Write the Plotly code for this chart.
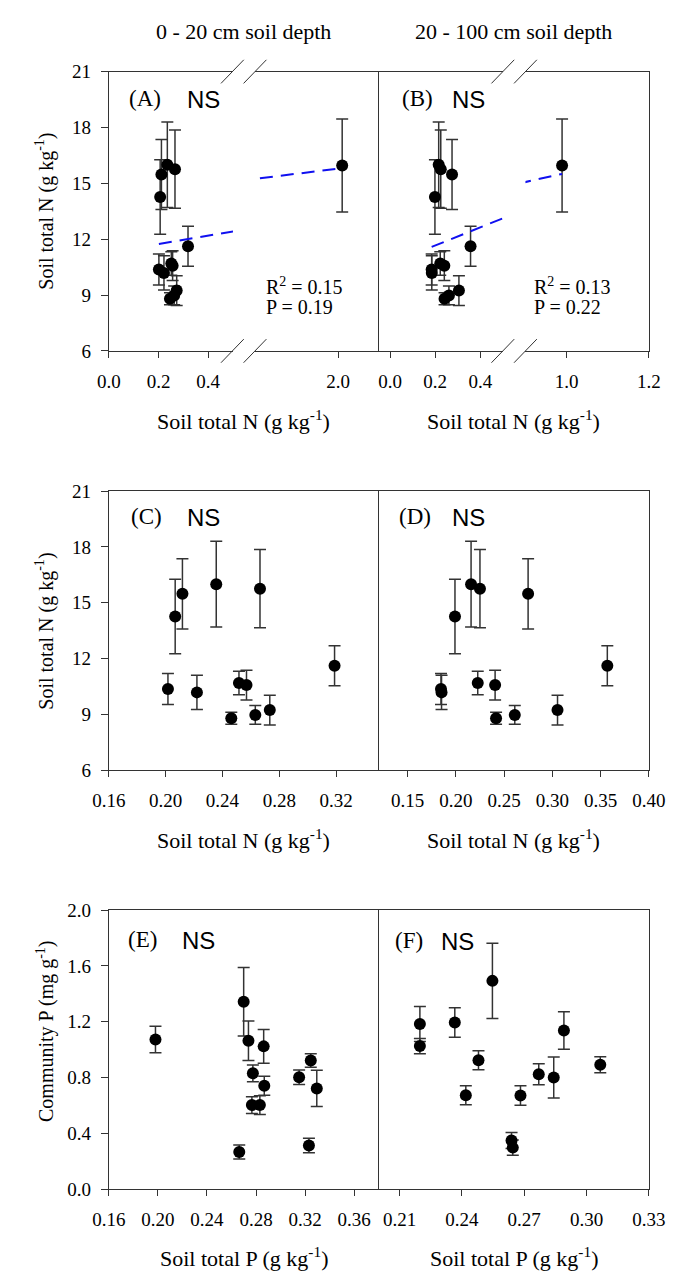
import numpy as np
import plotly.graph_objects as go

# ---------------- data ----------------
# Soil total N (x) vs soil total N (y) — 13 sites (last one is the high outlier)
soilN_0_20 = [0.2016, 0.2067, 0.2118, 0.222, 0.2356, 0.2462, 0.2516, 0.2569, 0.2631, 0.2664, 0.2733, 0.3189, 2.012]
soilN_20_100 = [0.1845, 0.199, 0.2748, 0.1851, 0.2157, 0.2416, 0.2226, 0.2406, 0.261, 0.2249, 0.3053, 0.3569, 0.989]
totalN_mean = [10.37, 14.26, 15.48, 10.19, 16.0, 8.80, 10.69, 10.58, 8.98, 15.76, 9.24, 11.62, 15.96]
totalN_err = [0.83, 2.0, 1.88, 0.92, 2.3, 0.32, 0.63, 0.8, 0.5, 2.1, 0.8, 1.07, 2.5]

# Soil total P (x) vs community P (y)
soilP_0_20 = [0.198, 0.2663, 0.2699, 0.2738, 0.2774, 0.2766, 0.2831, 0.2862, 0.2867, 0.3151, 0.3231, 0.3246, 0.3295]
commP_E = [1.073, 0.268, 1.343, 1.064, 0.831, 0.604, 0.604, 1.024, 0.742, 0.803, 0.315, 0.923, 0.723]
commP_E_err = [0.095, 0.05, 0.245, 0.142, 0.06, 0.06, 0.067, 0.12, 0.068, 0.052, 0.052, 0.049, 0.13]

soilP_20_100 = [0.2198, 0.2198, 0.2366, 0.2419, 0.248, 0.2547, 0.2639, 0.2645, 0.2682, 0.277, 0.2842, 0.2891, 0.3066]
commP_F = [1.184, 1.026, 1.195, 0.674, 0.925, 1.493, 0.350, 0.299, 0.672, 0.824, 0.801, 1.137, 0.892]
commP_F_err = [0.125, 0.055, 0.105, 0.068, 0.068, 0.27, 0.057, 0.055, 0.07, 0.075, 0.146, 0.134, 0.057]

depth_titles = ["0 - 20 cm soil depth", "20 - 100 cm soil depth"]
panel_letters = ["(A)", "(B)", "(C)", "(D)", "(E)", "(F)"]
stats_A = ["R<sup>2</sup> = 0.15", "P = 0.19"]
stats_B = ["R<sup>2</sup> = 0.13", "P = 0.22"]
xtitle_N = "Soil total N (g kg<sup>-1</sup>)"
xtitle_P = "Soil total P (g kg<sup>-1</sup>)"
ytitle_N = "Soil total N (g kg<sup>-1</sup>)"
ytitle_P = "Community P (mg g<sup>-1</sup>)"

# ---------------- layout geometry (pixels) ----------------
W, H = 675, 1275
L, M, R = 88.3, 372.5, 657.0
A_end, A2_start = 219.0, 242.5
B_end, B2_start = 503.2, 527.0
rows = [(54.5, 338.5), (481.0, 765.0), (907.0, 1191.0)]

def fx(p):
    return p / W

def fy(p):
    return 1 - p / H

SERIF = "Liberation Serif, Times New Roman, serif"
SANS = "Liberation Sans, Arial, sans-serif"
LINE = "#333333"
TICKFONT = dict(family=SERIF, size=19, color="black")

fig = go.Figure()

def add_points(x, y, err, ax):
    fig.add_trace(go.Scatter(
        x=x, y=y, mode="markers", xaxis="x" + ax, yaxis="y" + ax,
        marker=dict(color="black", size=12),
        error_y=dict(type="data", array=err, visible=True, color=LINE, thickness=1.5, width=6),
        showlegend=False, hoverinfo="skip"))

def add_fit(x, y, ax):
    slope, icpt = np.polyfit(np.array(x), np.array(y), 1)
    xs = np.array([min(x), max(x)])
    fig.add_trace(go.Scatter(
        x=xs, y=icpt + slope * xs, mode="lines", xaxis="x" + ax, yaxis="y" + ax,
        line=dict(color="#1010f0", width=2, dash="13px,8px"),
        showlegend=False, hoverinfo="skip"))

# Row 1: broken axes
for ax in ["", "2"]:
    add_points(soilN_0_20, totalN_mean, totalN_err, ax)
for ax in ["3", "4"]:
    add_points(soilN_20_100, totalN_mean, totalN_err, ax)
for ax in ["", "2"]:
    add_fit(soilN_0_20, totalN_mean, ax)
for ax in ["3", "4"]:
    add_fit(soilN_20_100, totalN_mean, ax)
# Row 2
add_points(soilN_0_20, totalN_mean, totalN_err, "5")
add_points(soilN_20_100, totalN_mean, totalN_err, "6")
# Row 3
add_points(soilP_0_20, commP_E, commP_E_err, "7")
add_points(soilP_20_100, commP_F, commP_F_err, "8")

def xax(domain_px, rng, tickvals, fmt, anchor):
    return dict(domain=[fx(domain_px[0]), fx(domain_px[1])], range=rng, tickvals=tickvals,
                tickformat=fmt, showline=True, linecolor=LINE, linewidth=1, mirror=True,
                ticks="outside", ticklen=6, tickcolor=LINE, tickwidth=1, showgrid=False,
                zeroline=False, tickfont=TICKFONT, anchor=anchor, ticklabelstandoff=7)

def yax(row, rng, tickvals, fmt, anchor, mode):
    d = dict(domain=[fy(row[1]), fy(row[0])], range=rng, showgrid=False, zeroline=False,
             anchor=anchor, tickvals=tickvals, tickformat=fmt, tickfont=TICKFONT)
    if mode == "main":
        d.update(showline=True, linecolor=LINE, linewidth=1, ticks="outside", ticklen=7,
                 tickcolor=LINE, tickwidth=1, ticklabelstandoff=6)
    elif mode == "none":
        d.update(showline=False, ticks="", showticklabels=False)
    elif mode == "left":
        d.update(showline=True, linecolor=LINE, linewidth=1, ticks="", showticklabels=False)
    elif mode == "right":
        d.update(showline=True, linecolor=LINE, linewidth=1, ticks="", showticklabels=False, side="right")
    elif mode == "both":
        d.update(showline=True, linecolor=LINE, linewidth=1, mirror=True, ticks="", showticklabels=False)
    return d

yN = [6, 9, 12, 15, 18, 21]
yP = [0.0, 0.4, 0.8, 1.2, 1.6, 2.0]
r1, r2, r3 = rows

layout = dict(
    width=W, height=H, margin=dict(l=0, r=0, t=0, b=0),
    plot_bgcolor="white", paper_bgcolor="white", showlegend=False,
    xaxis=xax((L, A_end), [0, 0.5], [0, 0.2, 0.4], ".1f", "y"),
    yaxis=yax(r1, [6, 21], yN, "d", "x", "main"),
    xaxis2=xax((A2_start, M), [1.76, 2.118], [2.0], ".1f", "y2"),
    yaxis2=yax(r1, [6, 21], yN, "d", "x2", "none"),
    xaxis3=xax((M, B_end), [-0.05, 0.5], [0, 0.2, 0.4], ".1f", "y3"),
    yaxis3=yax(r1, [6, 21], yN, "d", "x3", "left"),
    xaxis4=xax((B2_start, R), [0.9, 1.2], [1.0, 1.2], ".1f", "y4"),
    yaxis4=yax(r1, [6, 21], yN, "d", "x4", "right"),
    xaxis5=xax((L, M), [0.16, 0.35], [0.16, 0.20, 0.24, 0.28, 0.32], ".2f", "y5"),
    yaxis5=yax(r2, [6, 21], yN, "d", "x5", "main"),
    xaxis6=xax((M, R), [0.12, 0.40], [0.15, 0.20, 0.25, 0.30, 0.35, 0.40], ".2f", "y6"),
    yaxis6=yax(r2, [6, 21], yN, "d", "x6", "both"),
    xaxis7=xax((L, M), [0.16, 0.38], [0.16, 0.20, 0.24, 0.28, 0.32, 0.36], ".2f", "y7"),
    yaxis7=yax(r3, [0, 2.0], yP, ".1f", "x7", "main"),
    xaxis8=xax((M, R), [0.20, 0.33], [0.21, 0.24, 0.27, 0.30, 0.33], ".2f", "y8"),
    yaxis8=yax(r3, [0, 2.0], yP, ".1f", "x8", "both"),
)
fig.update_layout(**layout)

ann = []
def text(s, x, y, size, family=SERIF, xanchor="center", yanchor="middle", angle=0):
    ann.append(dict(text=s, x=fx(x), y=fy(y), xref="paper", yref="paper", showarrow=False,
                    font=dict(family=family, size=size, color="black"),
                    xanchor=xanchor, yanchor=yanchor, textangle=angle))

# headers
text(depth_titles[0], (L + M) / 2, 14, 22)
text(depth_titles[1], (M + R) / 2, 14, 22)
# x titles
for yy, t in [(409, xtitle_N), (835, xtitle_N), (1260, xtitle_P)]:
    text(t, (L + M) / 2, yy, 22)
    text(t, (M + R) / 2, yy, 22)
# y titles
text(ytitle_N, 21, 196, 20, angle=-90)
text(ytitle_N, 21, 623, 20, angle=-90)
text(ytitle_P, 21, 1030, 20, angle=-90)
# panel letters + NS
for lab, lx, nsx, yy in [(panel_letters[0], 107, 168, 82), (panel_letters[1], 395, 448, 82),
                         (panel_letters[2], 110, 168, 507), (panel_letters[3], 392, 448, 507),
                         (panel_letters[4], 106, 163, 937), (panel_letters[5], 388, 436, 938)]:
    text(lab, lx, yy, 23, xanchor="left")
    text("NS", nsx, yy + 1, 24, family=SANS, xanchor="left")
# stats
text(stats_A[0], 252, 272, 20, xanchor="left")
text(stats_A[1], 252, 294, 20, xanchor="left")
text(stats_B[0], 534, 272, 20, xanchor="left")
text(stats_B[1], 534, 294, 20, xanchor="left")
fig.update_layout(annotations=ann)

# axis-break marks (//) on top and bottom frame lines
shapes = []
for c1, c2 in [(218.4, 242.2), (503.2, 527.0)]:
    for yb in (r1[0], r1[1]):
        for c in (c1, c2):
            shapes.append(dict(type="line", xref="paper", yref="paper",
                               x0=fx(c - 12), y0=fy(yb + 12), x1=fx(c + 12), y1=fy(yb - 12),
                               line=dict(color=LINE, width=1)))
fig.update_layout(shapes=shapes)

fig.write_html("out.html")
